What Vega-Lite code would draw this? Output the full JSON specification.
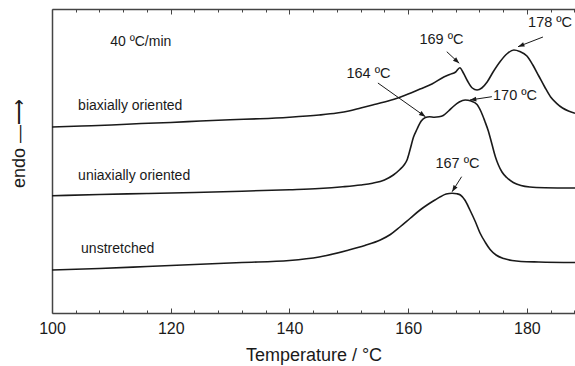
{
  "$schema": "https://vega.github.io/schema/vega-lite/v6.json",
  "width": 523,
  "height": 304,
  "autosize": "none",
  "padding": {"left": 52, "top": 9, "right": 0, "bottom": 53},
  "config": {"view": {"stroke": null}, "font": "Liberation Sans"},
  "datasets": {
    "curves": [
      {"s": "bi", "T": 100, "v": 186}, {"s": "bi", "T": 105, "v": 187}, {"s": "bi", "T": 110, "v": 188}, {"s": "bi", "T": 115, "v": 189.5},
      {"s": "bi", "T": 120, "v": 190.5}, {"s": "bi", "T": 125, "v": 192}, {"s": "bi", "T": 130, "v": 193.3}, {"s": "bi", "T": 135, "v": 194.3},
      {"s": "bi", "T": 140, "v": 195.8}, {"s": "bi", "T": 145, "v": 198}, {"s": "bi", "T": 148, "v": 200}, {"s": "bi", "T": 150, "v": 202},
      {"s": "bi", "T": 152, "v": 205}, {"s": "bi", "T": 154, "v": 208}, {"s": "bi", "T": 156, "v": 211}, {"s": "bi", "T": 158, "v": 214.5},
      {"s": "bi", "T": 160, "v": 219}, {"s": "bi", "T": 162, "v": 224}, {"s": "bi", "T": 164, "v": 229}, {"s": "bi", "T": 166, "v": 236},
      {"s": "bi", "T": 167, "v": 238.5}, {"s": "bi", "T": 168, "v": 241}, {"s": "bi", "T": 168.7, "v": 245.3}, {"s": "bi", "T": 169.3, "v": 240},
      {"s": "bi", "T": 170, "v": 232}, {"s": "bi", "T": 170.8, "v": 225}, {"s": "bi", "T": 171.6, "v": 223}, {"s": "bi", "T": 172.4, "v": 225},
      {"s": "bi", "T": 173.3, "v": 231}, {"s": "bi", "T": 174.3, "v": 241}, {"s": "bi", "T": 175.5, "v": 251.5}, {"s": "bi", "T": 176.7, "v": 259.5},
      {"s": "bi", "T": 177.8, "v": 263}, {"s": "bi", "T": 178.8, "v": 261.5}, {"s": "bi", "T": 180, "v": 257}, {"s": "bi", "T": 181, "v": 248},
      {"s": "bi", "T": 182, "v": 237}, {"s": "bi", "T": 183, "v": 226}, {"s": "bi", "T": 184, "v": 216}, {"s": "bi", "T": 185, "v": 209.7},
      {"s": "bi", "T": 186, "v": 205}, {"s": "bi", "T": 187, "v": 202}, {"s": "bi", "T": 188.1, "v": 199.7},

      {"s": "uni", "T": 100, "v": 117.3}, {"s": "uni", "T": 108, "v": 118.5}, {"s": "uni", "T": 116, "v": 119.5}, {"s": "uni", "T": 124, "v": 120.5},
      {"s": "uni", "T": 132, "v": 121.8}, {"s": "uni", "T": 140, "v": 123.3}, {"s": "uni", "T": 145, "v": 124.5}, {"s": "uni", "T": 149, "v": 126.2},
      {"s": "uni", "T": 152, "v": 128}, {"s": "uni", "T": 154, "v": 129.8}, {"s": "uni", "T": 156, "v": 133}, {"s": "uni", "T": 157.5, "v": 138},
      {"s": "uni", "T": 158.6, "v": 143.5}, {"s": "uni", "T": 159.3, "v": 148}, {"s": "uni", "T": 159.8, "v": 153}, {"s": "uni", "T": 160.3, "v": 163},
      {"s": "uni", "T": 160.9, "v": 176}, {"s": "uni", "T": 161.5, "v": 184}, {"s": "uni", "T": 162.2, "v": 192}, {"s": "uni", "T": 162.9, "v": 195.5},
      {"s": "uni", "T": 163.6, "v": 196.3}, {"s": "uni", "T": 164.4, "v": 195.8}, {"s": "uni", "T": 165.2, "v": 196.2}, {"s": "uni", "T": 165.9, "v": 197.5},
      {"s": "uni", "T": 166.8, "v": 202}, {"s": "uni", "T": 167.6, "v": 206.5}, {"s": "uni", "T": 168.6, "v": 211}, {"s": "uni", "T": 169.6, "v": 213},
      {"s": "uni", "T": 170.6, "v": 212}, {"s": "uni", "T": 171.6, "v": 208.5}, {"s": "uni", "T": 172.3, "v": 201}, {"s": "uni", "T": 172.9, "v": 192},
      {"s": "uni", "T": 173.5, "v": 182}, {"s": "uni", "T": 174.1, "v": 169}, {"s": "uni", "T": 174.7, "v": 156}, {"s": "uni", "T": 175.2, "v": 148},
      {"s": "uni", "T": 175.8, "v": 141}, {"s": "uni", "T": 176.6, "v": 135.5}, {"s": "uni", "T": 177.7, "v": 130.5}, {"s": "uni", "T": 179, "v": 127.5},
      {"s": "uni", "T": 180.5, "v": 126}, {"s": "uni", "T": 183, "v": 125.3}, {"s": "uni", "T": 188.1, "v": 125},

      {"s": "un", "T": 100, "v": 43}, {"s": "un", "T": 108, "v": 44.5}, {"s": "un", "T": 116, "v": 46.5}, {"s": "un", "T": 124, "v": 48.5},
      {"s": "un", "T": 132, "v": 50.5}, {"s": "un", "T": 140, "v": 52.5}, {"s": "un", "T": 145, "v": 56}, {"s": "un", "T": 149.7, "v": 62.5},
      {"s": "un", "T": 152.7, "v": 67.5}, {"s": "un", "T": 155.3, "v": 73}, {"s": "un", "T": 157, "v": 78.5}, {"s": "un", "T": 158.6, "v": 86},
      {"s": "un", "T": 160.3, "v": 94.5}, {"s": "un", "T": 162, "v": 103}, {"s": "un", "T": 163.3, "v": 108.5}, {"s": "un", "T": 164.5, "v": 113},
      {"s": "un", "T": 165.5, "v": 116.5}, {"s": "un", "T": 166.4, "v": 119}, {"s": "un", "T": 167.4, "v": 119.7}, {"s": "un", "T": 168.2, "v": 119.2},
      {"s": "un", "T": 168.8, "v": 118}, {"s": "un", "T": 169.6, "v": 112.5}, {"s": "un", "T": 170.4, "v": 103}, {"s": "un", "T": 171.3, "v": 91.5},
      {"s": "un", "T": 172.1, "v": 80}, {"s": "un", "T": 173, "v": 70.5}, {"s": "un", "T": 173.8, "v": 63.5}, {"s": "un", "T": 174.8, "v": 58},
      {"s": "un", "T": 176.1, "v": 54.5}, {"s": "un", "T": 177.5, "v": 52.5}, {"s": "un", "T": 179, "v": 51.5}, {"s": "un", "T": 182, "v": 51},
      {"s": "un", "T": 188.1, "v": 50.5}
    ],
    "curveLabels": [
      {"T": 109.8, "v": 271, "text": "40 ºC/min"},
      {"T": 104.4, "v": 207, "text": "biaxially oriented"},
      {"T": 104.4, "v": 137, "text": "uniaxially oriented"},
      {"T": 104.9, "v": 64, "text": "unstretched"}
    ],
    "peakLabels": [
      {"T": 165.6, "v": 273, "text": "169 ºC"},
      {"T": 183.9, "v": 290, "text": "178 ºC"},
      {"T": 153.3, "v": 239, "text": "164 ºC"},
      {"T": 178.0, "v": 217, "text": "170 ºC"},
      {"T": 168.3, "v": 149, "text": "167 ºC"}
    ],
    "arrows": [
      {"T": 166.5, "v": 261.3, "T2": 168.6, "v2": 249.7},
      {"T": 182.7, "v": 276, "T2": 178.5, "v2": 266.3},
      {"T": 154.9, "v": 230, "T2": 162.9, "v2": 196.3},
      {"T": 174.1, "v": 216.3, "T2": 170.4, "v2": 213},
      {"T": 169.0, "v": 136.3, "T2": 167.4, "v2": 121.3}
    ]
  },
  "resolve": {"axis": {"x": "independent"}},
  "layer": [
    {
      "data": {"name": "curves"},
      "mark": {"type": "line", "interpolate": "monotone", "color": "#1a1a1a", "strokeWidth": 1.6},
      "encoding": {
        "x": {
          "field": "T", "type": "quantitative",
          "scale": {"domain": [100, 188.1], "nice": false, "zero": false},
          "axis": {
            "orient": "bottom",
            "values": [100, 104, 108, 112, 116, 120, 124, 128, 132, 136, 140, 144, 148, 152, 156, 160, 164, 168, 172, 176, 180, 184, 188],
            "labelExpr": "datum.value % 20 === 0 ? datum.label : ''",
            "tickSize": {"condition": {"test": "datum.value % 20 === 0", "value": -5}, "value": -3},
            "tickColor": "#444", "tickWidth": 1,
            "domainColor": "#444", "domainWidth": 1.5,
            "grid": false,
            "labelFontSize": 16, "labelColor": "#1a1a1a", "labelPadding": 12,
            "labelFlush": false,
            "title": "Temperature / °C", "titleFontSize": 18, "titleFontWeight": "normal", "titleColor": "#1a1a1a", "titlePadding": 10
          }
        },
        "y": {
          "field": "v", "type": "quantitative",
          "scale": {"domain": [0, 304], "nice": false, "zero": false},
          "axis": {
            "orient": "left", "ticks": false, "labels": false, "grid": false,
            "domainColor": "#444", "domainWidth": 1.5,
            "title": "endo  —⟶", "titleFontSize": 18, "titleFontWeight": "normal", "titleColor": "#1a1a1a",
            "titleAngle": 270, "titleX": -33, "titleY": 134, "titleAlign": "center", "titleBaseline": "middle"
          }
        },
        "detail": {"field": "s", "type": "nominal"}
      }
    },
    {
      "data": {"name": "curveLabels"},
      "mark": {"type": "text", "fontSize": 14, "color": "#1a1a1a", "baseline": "middle", "align": "left"},
      "encoding": {
        "x": {
          "field": "T", "type": "quantitative",
          "axis": {
            "orient": "top",
            "values": [100, 104, 108, 112, 116, 120, 124, 128, 132, 136, 140, 144, 148, 152, 156, 160, 164, 168, 172, 176, 180, 184, 188],
            "labels": false, "title": null, "grid": false,
            "tickSize": {"condition": {"test": "datum.value % 20 === 0", "value": -5}, "value": -3},
            "tickColor": "#444", "tickWidth": 1,
            "domainColor": "#444", "domainWidth": 1.5
          }
        },
        "y": {"field": "v", "type": "quantitative"},
        "text": {"field": "text"}
      }
    },
    {
      "data": {"name": "peakLabels"},
      "mark": {"type": "text", "fontSize": 14.5, "color": "#1a1a1a", "baseline": "middle", "align": "center"},
      "encoding": {
        "x": {"field": "T", "type": "quantitative", "axis": null},
        "y": {"field": "v", "type": "quantitative"},
        "text": {"field": "text"}
      }
    },
    {
      "data": {"name": "arrows"},
      "mark": {"type": "rule", "color": "#1a1a1a", "strokeWidth": 1},
      "encoding": {
        "x": {"field": "T", "type": "quantitative", "axis": null},
        "y": {"field": "v", "type": "quantitative"},
        "x2": {"field": "T2"},
        "y2": {"field": "v2"}
      }
    },
    {
      "data": {"name": "arrows"},
      "transform": [
        {"calculate": "atan2((datum.T2 - datum.T) * 5.937, datum.v2 - datum.v) * 180 / PI", "as": "ang"}
      ],
      "mark": {"type": "point", "shape": "M0,0L-0.6,1.6L0.6,1.6Z", "filled": true, "size": 64, "color": "#1a1a1a", "opacity": 1},
      "encoding": {
        "x": {"field": "T2", "type": "quantitative", "axis": null},
        "y": {"field": "v2", "type": "quantitative"},
        "angle": {"field": "ang", "type": "quantitative", "scale": null}
      }
    }
  ]
}
